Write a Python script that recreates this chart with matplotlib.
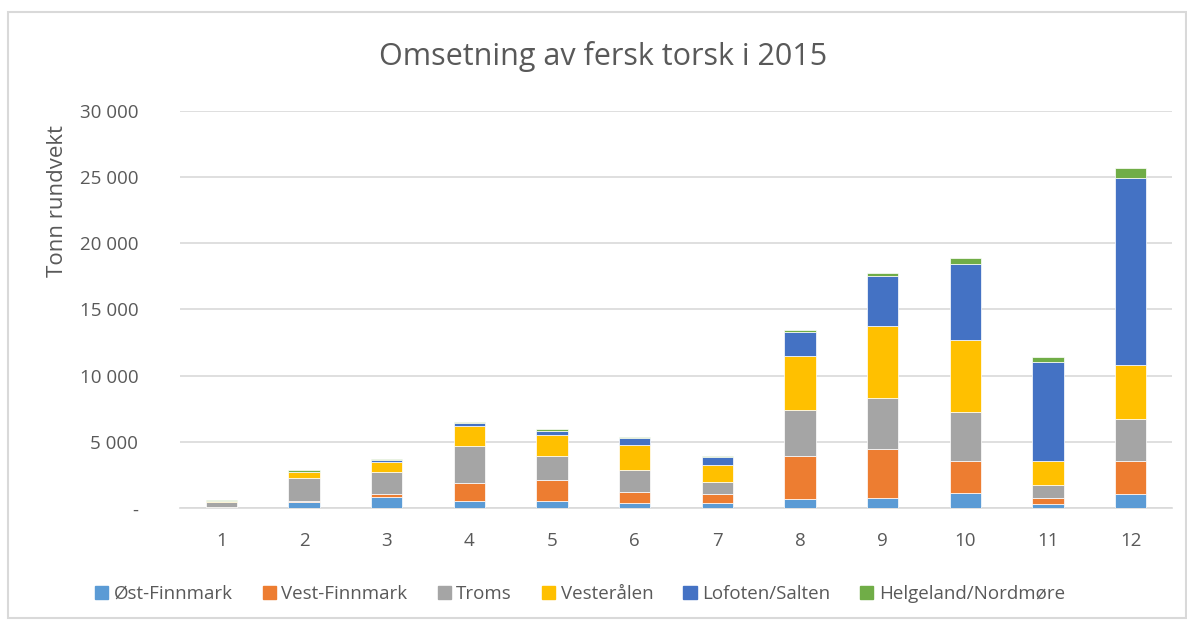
import matplotlib
matplotlib.use("Agg")
import matplotlib.pyplot as plt
import matplotlib.patches as mpatches
from matplotlib.ticker import FuncFormatter
import numpy as np

# Data (tonn rundvekt per month)
months = ["1", "2", "3", "4", "5", "6", "7", "8", "9", "10", "11", "12"]
regions = ["Øst-Finnmark", "Vest-Finnmark", "Troms", "Vesterålen",
           "Lofoten/Salten", "Helgeland/Nordmøre"]

ost_finnmark  = [20, 470, 850, 550, 550, 380, 380, 680, 750, 1130, 300, 1080]
vest_finnmark = [100, 100, 230, 1380, 1580, 870, 680, 3260, 3690, 2430, 450, 2480]
troms         = [350, 1730, 1630, 2780, 1800, 1630, 950, 3480, 3860, 3740, 1000, 3180]
vesteralen    = [100, 450, 780, 1530, 1630, 1930, 1280, 4040, 5470, 5410, 1800, 4040]
lofoten       = [10, 20, 130, 200, 300, 530, 580, 1830, 3780, 5690, 7450, 14120]
helgeland     = [75, 125, 75, 100, 100, 75, 100, 130, 200, 480, 450, 750]

series = [ost_finnmark, vest_finnmark, troms, vesteralen, lofoten, helgeland]
colors = ["#5B9BD5", "#ED7D31", "#A5A5A5", "#FFC000", "#4472C4", "#70AD47"]

TEXT = "#595959"
GRID = "#D9D9D9"

plt.rcParams.update({
    "font.family": ["Open Sans", "DejaVu Sans"],
    "font.size": 13,
    "text.color": TEXT,
})

fig = plt.figure(figsize=(11.87, 6.2), dpi=100)
ax = fig.add_axes([180 / 1187, 1 - 508.3 / 620, 992 / 1187, (508.3 - 110.6) / 620])

x = np.arange(len(months))
bottom = np.zeros(len(months))
for vals, col, name in zip(series, colors, regions):
    ax.bar(x, vals, width=0.38, bottom=bottom, color=col, label=name,
           edgecolor="white", linewidth=0.5, zorder=3)
    bottom += np.array(vals)

ax.set_xlim(-0.5, len(months) - 0.5)
ax.set_ylim(0, 30000)
ax.set_yticks(np.arange(0, 30001, 5000))
ax.yaxis.set_major_formatter(FuncFormatter(
    lambda v, p: "-" if v == 0 else f"{int(v):,}".replace(",", " ")))
ax.set_xticks(x)
ax.set_xticklabels(months)
ax.tick_params(axis="y", length=0, pad=30, labelsize=13.5, labelcolor=TEXT)
ax.tick_params(axis="x", length=0, pad=17, labelsize=13.5, labelcolor=TEXT)
ax.yaxis.grid(True, color=GRID, linewidth=1.2, zorder=0)
ax.set_axisbelow(True)
for s in ["top", "right", "left"]:
    ax.spines[s].set_visible(False)
ax.spines["bottom"].set_color(GRID)
ax.spines["bottom"].set_linewidth(1.2)

fig.text(603 / 1187, 1 - 57 / 620, "Omsetning av fersk torsk i 2015",
         ha="center", va="center", fontsize=22, color=TEXT)
fig.text(58 / 1187, 1 - 201 / 620, "Tonn rundvekt", rotation=90,
         ha="center", va="center", fontsize=16, color=TEXT)

handles = [mpatches.Patch(color=c, label=r) for c, r in zip(colors, regions)]
fig.legend(handles=handles, loc="center", ncol=6, frameon=False,
           bbox_to_anchor=(580 / 1187, 1 - 594 / 620), fontsize=13.5,
           handlelength=0.7, handleheight=0.7, handletextpad=0.3,
           columnspacing=1.6, labelcolor=TEXT)

# Chart frame
fig.patches.append(mpatches.Rectangle((8 / 1187, 2 / 620), 1178 / 1187, 606 / 620,
                                      transform=fig.transFigure, fill=False,
                                      edgecolor=GRID, linewidth=1.5))

plt.savefig("out.png", dpi=100, facecolor="white")
